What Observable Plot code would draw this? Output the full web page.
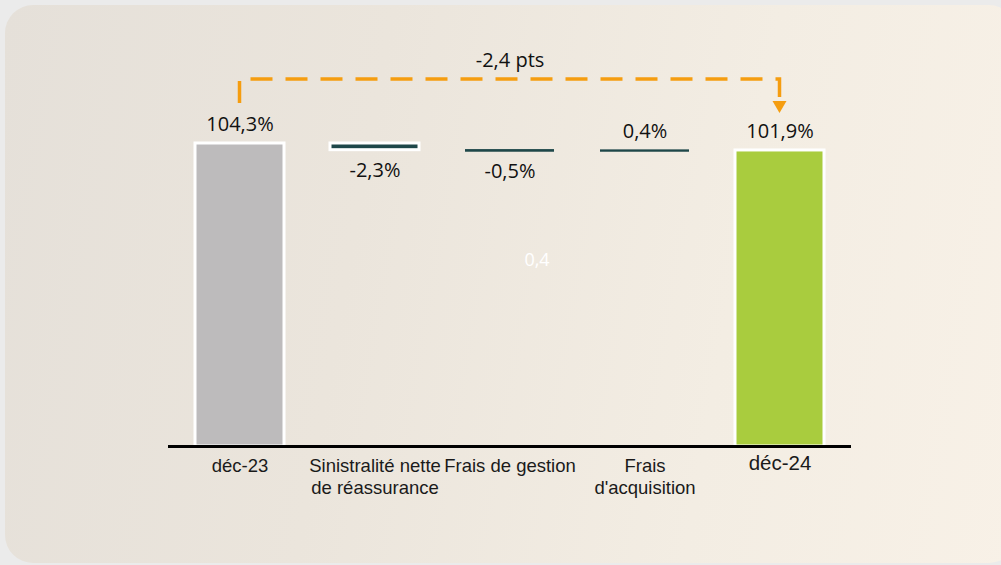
<!DOCTYPE html>
<html><head><meta charset="utf-8">
<script src="https://cdn.jsdelivr.net/npm/d3@7"></script>
<script src="https://cdn.jsdelivr.net/npm/@observablehq/plot@0.6"></script>
<style>
html,body{margin:0;padding:0;width:1001px;height:565px;overflow:hidden;background:#ebebeb;}
#panel{position:absolute;left:5px;top:5px;width:1012px;height:558px;border-radius:28px;
background:linear-gradient(100deg,#e5e0d9 0%,#ebe5dc 35%,#f3ede3 70%,#f8f1e7 100%);}
#chart{position:absolute;left:0;top:0;}
</style></head><body><div id="panel"></div><div id="chart"></div>
<script>
// ---- data ----
const categories = ["déc-23", "Sinistralité nette\nde réassurance", "Frais de gestion", "Frais\nd'acquisition", "déc-24"];
const values = [104.3, -2.3, -0.5, 0.4, 101.9];
const valueLabels = ["104,3%", "-2,3%", "-0,5%", "0,4%", "101,9%"];
const isTotal = [true, false, false, false, true];
const changeLabel = "-2,4 pts";
const ghostLabel = "0,4";

// ---- styles ----
const GRAY = "#bdbbbc", GREEN = "#a9cc3e", TEAL = "#1e4749", ORANGE = "#f59d10";
const LABEL_FONT = "'Open Sans', sans-serif";
const AXIS_FONT = "'Liberation Sans', Arial, sans-serif";

// waterfall rows
let run = 0;
const rows = categories.map((cat, i) => {
  const v = values[i];
  let y1, y2;
  if (isTotal[i]) { y1 = 0; y2 = v; run = v; }
  else { y1 = run; y2 = run + v; run = y2; }
  return {i, cat, v, y1, y2, total: isTotal[i], label: valueLabels[i],
          top: Math.max(y1, y2), bottom: Math.min(y1, y2)};
});
const fillOf = d => d.total ? (d.i === 0 ? GRAY : GREEN) : TEAL;

function connector(index, scales, vals, dims) {
  const x = scales.x, y = scales.y;
  let bw = typeof x.bandwidth === "function" ? x.bandwidth() : (x.bandwidth || 0);
  if (!bw) bw = (x(categories[1]) - x(categories[0])) * 0.66;
  const cx0 = x(categories[0]) + bw / 2;
  const cx1 = x(categories[categories.length - 1]) + bw / 2;
  const t0 = y(values[0]), t1 = y(values[values.length - 1]);
  const level = Math.min(t0, t1) - 64;
  const g = d3.create("svg:g");
  g.append("path")
    .attr("d", `M${cx0},${t0 - 40}V${level}H${cx1}V${t1 - 49}`)
    .attr("fill", "none").attr("stroke", ORANGE).attr("stroke-width", 3.5)
    .attr("stroke-dasharray", "22 13");
  g.append("path")
    .attr("d", `M${cx1 - 7},${t1 - 49}L${cx1 + 7},${t1 - 49}L${cx1},${t1 - 37}Z`)
    .attr("fill", ORANGE);
  return g.node();
}

const plot = Plot.plot({
  width: 1001, height: 565,
  marginTop: 143, marginBottom: 119, marginLeft: 147, marginRight: 128,
  x: {domain: categories, padding: 0.34, axis: null},
  y: {domain: [0, 104.3], axis: null},
  style: {background: "transparent", overflow: "visible"},
  marks: [
    Plot.barY(rows.filter(d => d.total || Math.abs(d.v) >= 1),
      {x: "cat", y1: "y1", y2: "y2", fill: fillOf, stroke: "white", strokeWidth: 3}),
    Plot.barY(rows.filter(d => !d.total && Math.abs(d.v) < 1),
      {x: "cat", y1: "y1", y2: "y2", fill: TEAL, insetTop: -0.6, insetBottom: -0.6}),
    Plot.ruleY([0], {stroke: "#000", strokeWidth: 3, insetLeft: 21, insetRight: 22}),
    // value labels above
    Plot.text(rows.filter(d => d.total || d.v >= 0),
      {x: "cat", y: "top", text: "label", dy: -19, lineAnchor: "middle",
       fontFamily: LABEL_FONT, fontSize: 20, fill: "#111"}),
    // value labels below
    Plot.text(rows.filter(d => !d.total && d.v < 0),
      {x: "cat", y: "bottom", text: "label", dy: 20, lineAnchor: "middle",
       fontFamily: LABEL_FONT, fontSize: 20, fill: "#111"}),
    // category labels
    Plot.text(categories.slice(0, -1),
      {x: d => d, frameAnchor: "bottom", text: d => d, lineAnchor: "top", dy: 9,
       lineHeight: 1.22, fontFamily: AXIS_FONT, fontSize: 18.5, fill: "#1a1a1a"}),
    Plot.text(categories.slice(-1),
      {x: d => d, frameAnchor: "bottom", text: d => d, lineAnchor: "top", dy: 9,
       fontFamily: AXIS_FONT, fontSize: 20.5, fill: "#1a1a1a"}),
    // connector
    connector,
    Plot.text([changeLabel],
      {x: () => categories[2], y: () => values[0], text: d => d, dy: -83, lineAnchor: "middle",
       fontFamily: LABEL_FONT, fontSize: 20, fill: "#111"}),
    Plot.text([ghostLabel],
      {x: () => categories[2], frameAnchor: "middle", text: d => d, dx: 27, dy: -35,
       lineAnchor: "middle", fontFamily: LABEL_FONT, fontSize: 18, fill: "#ffffff"})
  ]
});
document.getElementById("chart").appendChild(plot);
</script></body></html>
